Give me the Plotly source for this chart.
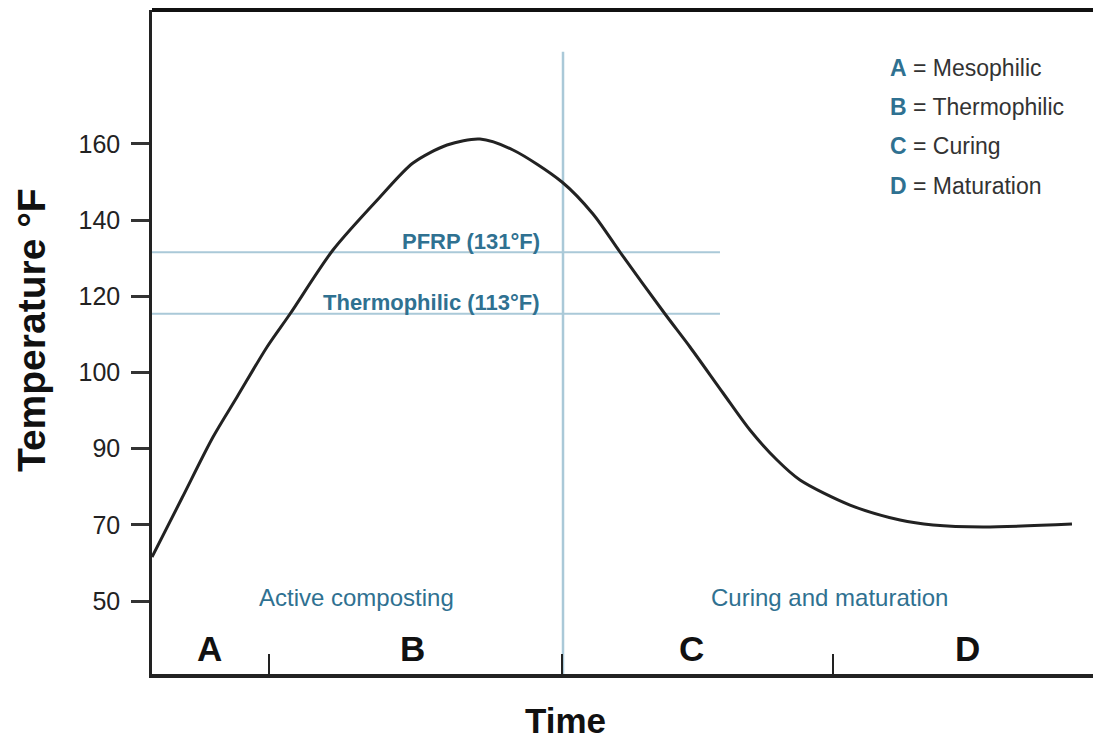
import plotly.graph_objects as go

# ---- data (y in axis "level" units: 0 -> 50°F tick, 1 -> 70, ... 6 -> 160) ----
tick_levels = [0, 1, 2, 3, 4, 5, 6]
tick_labels = ["50", "70", "90", "100", "120", "140", "160"]

time = [0.0, 3.16, 6.43, 8.96, 12.12, 14.54, 19.07, 24.03, 27.50, 31.09, 34.56, 38.04,
        43.20, 46.47, 49.31, 54.06, 56.69, 60.17, 63.01, 65.86, 68.28, 73.55, 78.82,
        82.30, 87.57, 96.94]
temp_level = [0.578, 1.352, 2.153, 2.678, 3.335, 3.768, 4.608, 5.304, 5.750, 5.987, 6.065, 5.921,
              5.501, 5.081, 4.582, 3.768, 3.335, 2.731, 2.245, 1.851, 1.589, 1.260, 1.063,
              0.998, 0.972, 1.011]

phase_ticks = [12.33, 43.2, 71.76]
phase_letters = ["A", "B", "C", "D"]
phase_letter_x = [6.1, 27.4, 56.9, 85.9]
phase_names = ["Mesophilic", "Thermophilic", "Curing", "Maturation"]
stage_labels = ["Active composting", "Curing and maturation"]
stage_label_x = [21.6, 71.4]

threshold_names = ["PFRP (131°F)", "Thermophilic (113°F)"]
threshold_levels = [4.58, 3.77]
threshold_label_levels = [4.726, 3.925]
threshold_end = 59.85
divider_time = 43.31
divider_top = 7.21

BLUE_TXT = "#2f7191"
BLUE_LINE = "#aac9d8"
DARK = "#222222"
FONT = "Liberation Sans, Arial, sans-serif"

fig = go.Figure()

for lv in threshold_levels:
    fig.add_trace(go.Scatter(x=[0, threshold_end], y=[lv, lv], mode="lines",
                             line=dict(color=BLUE_LINE, width=2), hoverinfo="skip",
                             showlegend=False))
fig.add_trace(go.Scatter(x=[divider_time, divider_time], y=[divider_top, -0.96], mode="lines",
                         line=dict(color=BLUE_LINE, width=2.5), hoverinfo="skip",
                         showlegend=False))

fig.add_trace(go.Scatter(x=time, y=temp_level, mode="lines",
                         line=dict(color=DARK, width=3, shape="spline", smoothing=0.8),
                         showlegend=False))

ann = []
for name, lv in zip(threshold_names, threshold_label_levels):
    ann.append(dict(x=41.1, y=lv, xref="x", yref="y", text="<b>" + name + "</b>",
                    showarrow=False, xanchor="right", yanchor="middle",
                    font=dict(family=FONT, size=22, color=BLUE_TXT)))

for letter, lx in zip(phase_letters, phase_letter_x):
    ann.append(dict(x=lx, y=-0.617, xref="x", yref="y", text="<b>" + letter + "</b>",
                    showarrow=False, yanchor="middle",
                    font=dict(family=FONT, size=35, color="#111")))

for s, sx in zip(stage_labels, stage_label_x):
    ann.append(dict(x=sx, y=0.04, xref="x", yref="y", text=s, showarrow=False,
                    yanchor="middle",
                    font=dict(family=FONT, size=24, color=BLUE_TXT)))

legend_levels = [7.0, 6.486, 5.973, 5.448]
for letter, name, ly in zip(phase_letters, phase_names, legend_levels):
    ann.append(dict(x=77.55, y=ly, xref="x", yref="y",
                    text="<b><span style='color:%s'>%s</span></b> = %s" % (BLUE_TXT, letter, name),
                    showarrow=False, xanchor="left", yanchor="middle",
                    font=dict(family=FONT, size=23, color="#333")))

# axis titles placed in paper coordinates (plot area: x 144..1093, y 2..666 in figure px)
plot_w = 1093 - 144
plot_h = 666 - 2
ann.append(dict(x=(23 - 144) / plot_w, y=(666 - 322) / plot_h, xref="paper", yref="paper",
                text="<b>Temperature °F</b>", showarrow=False, textangle=-90,
                xanchor="center", yanchor="middle",
                font=dict(family=FONT, size=39, color="#111")))
ann.append(dict(x=(557 - 144) / plot_w, y=-(712 - 666) / plot_h, xref="paper", yref="paper",
                text="<b>Time</b>", showarrow=False, xanchor="center", yanchor="middle",
                font=dict(family=FONT, size=35, color="#111")))

fig.update_layout(
    width=1093, height=736,
    margin=dict(l=144, r=0, t=2, b=70),
    paper_bgcolor="white", plot_bgcolor="white",
    annotations=ann,
    xaxis=dict(range=[0, 100], showgrid=False, zeroline=False,
               showline=True, linecolor=DARK, linewidth=4,
               ticks="inside", tickvals=phase_ticks, ticklen=20, tickwidth=2,
               tickcolor=DARK, showticklabels=False),
    yaxis=dict(range=[-0.958, 7.759], showgrid=False, zeroline=False,
               showline=True, linecolor=DARK, linewidth=2.5,
               ticks="outside", tickvals=tick_levels, ticktext=tick_labels,
               ticklen=18, tickwidth=3, tickcolor="#333", ticklabelstandoff=6,
               tickfont=dict(family=FONT, size=25, color="#222")),
    shapes=[dict(type="line", xref="paper", yref="paper", x0=0, x1=1.01, y0=1, y1=1,
                 line=dict(color="#111", width=4))],
)

fig.write_html("out.html")
